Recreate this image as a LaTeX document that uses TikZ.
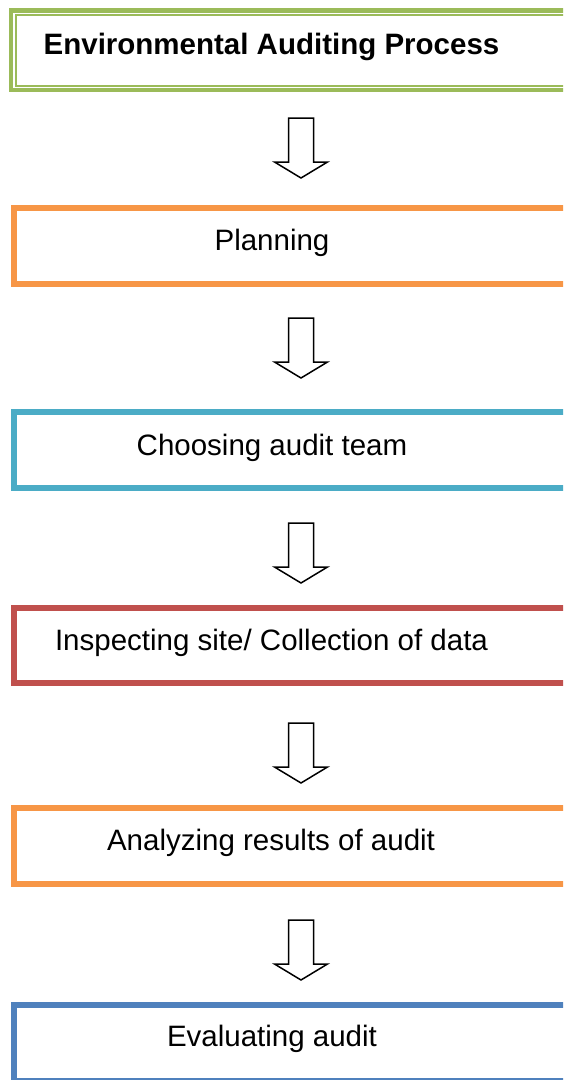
\documentclass[tikz,border=0pt]{standalone}
\usepackage{fontspec}
\setmainfont{Liberation Sans}
\definecolor{cgreen}{HTML}{9BBB59}
\definecolor{corange}{HTML}{F79646}
\definecolor{cteal}{HTML}{4BACC6}
\definecolor{cred}{HTML}{C0504D}
\definecolor{cblue}{HTML}{4F81BD}
\tikzset{
  stepbox/.style={draw=#1, line width=6pt, fill=white},
  steptext/.style={anchor=base, inner sep=0pt, font=\fontsize{29.5}{34}\selectfont},
  blockarrow/.pic={
    \draw[line width=1.5pt, line join=miter, fill=white]
      (-12.5,0) -- (12.5,0) -- (12.5,44) -- (26.5,44) -- (0,60)
      -- (-26.5,44) -- (-12.5,44) -- cycle;
  }
}
\begin{document}
\begin{tikzpicture}[x=1pt,y=-1pt]
\path[use as bounding box] (0,0) rectangle (563,1080);
\clip (0,0) rectangle (563,1080);
\fill[white] (0,0) rectangle (563,1080);
% title box (double border)
\draw[cgreen, line width=4.5pt] (11,10.5) rectangle (600,90);
\draw[cgreen, line width=2pt] (16,15) rectangle (600,86);
\node[steptext, font=\fontsize{29.5}{34}\selectfont\bfseries] (title) at (271.5,54) {Environmental Auditing Process};
% step boxes
\draw[stepbox=corange] (14,207.5) rectangle (600,283.5);
\node[steptext] (plan) at (272,250) {Planning};
\draw[stepbox=cteal] (14,411.5) rectangle (600,488);
\node[steptext] (team) at (272,455) {Choosing audit team};
\draw[stepbox=cred] (14,607.5) rectangle (600,683);
\node[steptext] (site) at (271.5,650) {Inspecting site/ Collection of data};
\draw[stepbox=corange] (14,807.5) rectangle (600,883.5);
\node[steptext] (anal) at (271,850) {Analyzing results of audit};
\draw[stepbox=cblue] (14,1005) rectangle (600,1081);
\node[steptext] (eval) at (272,1046) {Evaluating audit};
% block arrows
\pic at (301,118) {blockarrow};
\pic at (301,318) {blockarrow};
\pic at (301,523) {blockarrow};
\pic at (301,723) {blockarrow};
\pic at (301,920) {blockarrow};
\end{tikzpicture}
\end{document}
